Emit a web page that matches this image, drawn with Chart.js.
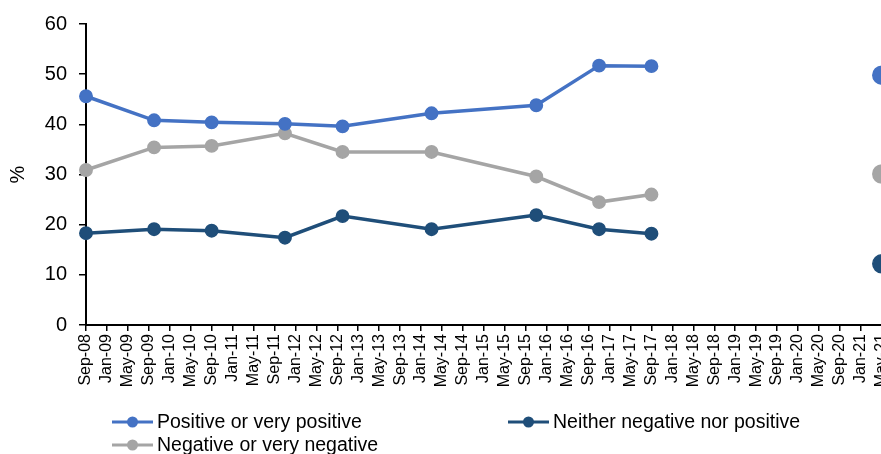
<!DOCTYPE html>
<html>
<head>
<meta charset="utf-8">
<script src="https://cdn.jsdelivr.net/npm/chart.js@4/dist/chart.umd.min.js"></script>
<style>
  html, body { margin: 0; padding: 0; overflow: hidden; background: #fff; }
  #c { display: block; }
</style>
</head>
<body>
<canvas id="c" width="904" height="454"></canvas>
<script>
// Survey waves (year-month) and share of respondents, in %
const surveyDates = ['2008-09', '2009-10', '2010-09', '2011-11', '2012-10', '2014-03', '2015-11', '2016-11', '2017-09', '2021-05'];
const positive = [45.6, 40.8, 40.4, 40.1, 39.6, 42.2, 43.8, 51.7, 51.6, 49.8];
const negative = [30.9, 35.4, 35.7, 38.2, 34.5, 34.5, 29.6, 24.5, 26.0, 30.1];
const neither  = [18.3, 19.1, 18.8, 17.4, 21.7, 19.1, 21.9, 19.1, 18.2, 12.2];
const seriesLabels = ['Positive or very positive', 'Neither negative nor positive', 'Negative or very negative'];
const seriesColors = ['#4472C4', '#1F4E79', '#A5A5A5'];
const monthNames = ['Jan', 'Feb', 'Mar', 'Apr', 'May', 'Jun', 'Jul', 'Aug', 'Sep', 'Oct', 'Nov', 'Dec'];
const yTickValues = [0, 10, 20, 30, 40, 50, 60];

// x axis runs in months counted from Sep 2008, labelled every four months up to May-21
const START_YEAR = 2008, START_MONTH = 8;
const X_MAX = 152;
function monthIndex(ym) {
  const [y, m] = ym.split('-').map(Number);
  return (y - START_YEAR) * 12 + (m - 1) - START_MONTH;
}
function monthLabel(v) {
  const total = START_MONTH + v;
  const m = ((total % 12) + 12) % 12;
  const y = START_YEAR + Math.floor(total / 12);
  return monthNames[m] + '-' + String(y % 100).padStart(2, '0');
}
function toPoints(values) {
  return values.map((v, i) => ({ x: monthIndex(surveyDates[i]), y: v }));
}

const FONT = '"Liberation Sans", Arial, sans-serif';
const lastIdx = surveyDates.length - 1;

function makeDataset(label, values, color) {
  return {
    label,
    data: toPoints(values),
    borderColor: color,
    backgroundColor: color,
    pointBackgroundColor: color,
    pointBorderColor: color,
    borderWidth: 3.5,
    pointRadius: ctx => (ctx.dataIndex === lastIdx ? 9 : 6.2),
    pointBorderWidth: 1.5,
    pointHoverRadius: 6,
    tension: 0,
    spanGaps: 30,   // waves more than 30 months apart are not joined
    clip: false
  };
}

// Legend drawn as line-with-marker swatches, two per row
const lineLegend = {
  id: 'lineLegend',
  afterDraw(chart, args, opts) {
    const ctx = chart.ctx;
    ctx.save();
    opts.slots.forEach((slot) => {
      const ds = chart.data.datasets[slot.dataset];
      ctx.strokeStyle = ds.borderColor;
      ctx.fillStyle = ds.borderColor;
      ctx.lineWidth = 3;
      ctx.beginPath();
      ctx.moveTo(slot.x, slot.y);
      ctx.lineTo(slot.x + opts.swatch, slot.y);
      ctx.stroke();
      ctx.beginPath();
      ctx.arc(slot.x + opts.swatch / 2, slot.y, 5.5, 0, Math.PI * 2);
      ctx.fill();
      ctx.fillStyle = '#000';
      ctx.font = opts.font;
      ctx.textBaseline = 'middle';
      ctx.textAlign = 'left';
      ctx.fillText(ds.label, slot.x + opts.swatch + 4, slot.y + 1);
    });
    ctx.restore();
  }
};

new Chart(document.getElementById('c'), {
  type: 'line',
  data: {
    datasets: [
      makeDataset(seriesLabels[0], positive, seriesColors[0]),
      makeDataset(seriesLabels[1], neither, seriesColors[1]),
      makeDataset(seriesLabels[2], negative, seriesColors[2])
    ]
  },
  options: {
    responsive: false,
    animation: false,
    devicePixelRatio: 1,
    layout: { padding: { top: 8, right: 0, bottom: 54, left: 0 } },
    plugins: {
      legend: { display: false },
      tooltip: { enabled: false },
      lineLegend: {
        swatch: 41,
        font: '19.5px ' + FONT,
        slots: [
          { dataset: 0, x: 112, y: 422 },
          { dataset: 1, x: 508, y: 422 },
          { dataset: 2, x: 112, y: 445 }
        ]
      }
    },
    scales: {
      x: {
        type: 'linear',
        min: 0,
        max: X_MAX,
        offset: false,
        afterFit(scale) { scale.height = 75; },
        border: { display: true, color: '#000', width: 2 },
        grid: { display: true, drawOnChartArea: false, drawTicks: true, tickLength: 6, color: '#000', lineWidth: 1.5 },
        ticks: {
          stepSize: 4,
          autoSkip: false,
          minRotation: 90,
          maxRotation: 90,
          padding: 3,
          color: '#000',
          font: { family: FONT, size: 16 },
          callback: v => monthLabel(v)
        }
      },
      y: {
        min: 0,
        max: 60,
        afterFit(scale) { scale.width = 86; },
        afterBuildTicks(scale) { scale.ticks = yTickValues.map(v => ({ value: v })); },
        border: { display: true, color: '#000', width: 2 },
        grid: { display: true, drawOnChartArea: false, drawTicks: true, tickLength: 7, color: '#000', lineWidth: 1.5 },
        title: { display: true, text: '%', color: '#000', font: { family: FONT, size: 20 }, padding: { top: 6, bottom: 0 } },
        ticks: {
          padding: 12,
          color: '#000',
          font: { family: FONT, size: 20 }
        }
      }
    }
  },
  plugins: [lineLegend]
});
</script>
</body>
</html>
